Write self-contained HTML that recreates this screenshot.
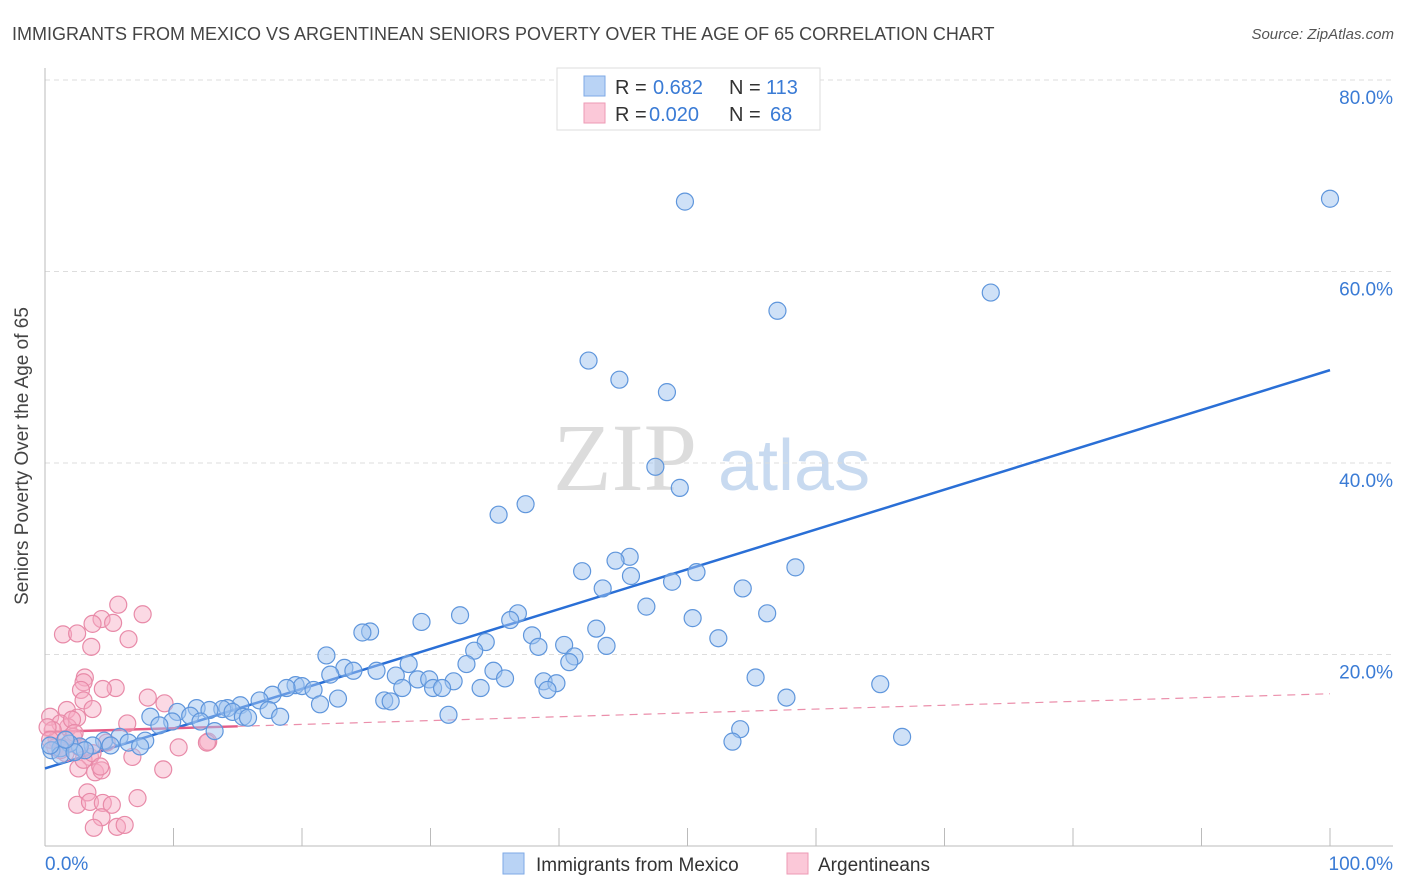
<!DOCTYPE html>
<html><head><meta charset="utf-8"><style>
body{margin:0;background:#fff;font-family:"Liberation Sans",sans-serif}
svg{display:block}
</style></head><body>
<svg id="chart" width="1406" height="892" xmlns="http://www.w3.org/2000/svg">
<text x="12" y="40" font-size="18" fill="#444">IMMIGRANTS FROM MEXICO VS ARGENTINEAN SENIORS POVERTY OVER THE AGE OF 65 CORRELATION CHART</text>
<text x="1394" y="39" font-size="15" fill="#555" font-style="italic" text-anchor="end">Source: ZipAtlas.com</text>
<g>
<text x="553" y="490" font-size="96" font-family="Liberation Serif,serif" fill="#dcdcdc">ZIP</text>
<text x="718" y="490" font-size="72" fill="#c8daf0">atlas</text>
</g>
<g id="grid"></g>
<g id="axes"></g>
<g id="trend"></g>
<g id="pink"></g>
<g id="blue"></g>
<text x="28" y="456" font-size="19" fill="#444" text-anchor="middle" transform="rotate(-90 28 456)">Seniors Poverty Over the Age of 65</text>
<text x="45" y="870" font-size="19" fill="#3a7bd5">0.0%</text>
<text x="1393" y="870" font-size="19" fill="#3a7bd5" text-anchor="end">100.0%</text>
<g>
<rect x="557" y="68" width="263" height="62" fill="#fff" stroke="#ddd"/>
<rect x="584" y="76" width="21" height="20" fill="#b9d3f5" stroke="#7eaae6"/>
<rect x="584" y="103" width="21" height="20" fill="#fbc8d8" stroke="#ee9ab5"/>
<text x="615" y="94" font-size="20" fill="#333">R = </text><text x="653" y="94" font-size="20" fill="#3a7bd5">0.682</text>
<text x="729" y="94" font-size="20" fill="#333">N = </text><text x="766" y="94" font-size="20" fill="#3a7bd5">113</text>
<text x="615" y="121" font-size="20" fill="#333">R = </text><text x="649" y="121" font-size="20" fill="#3a7bd5">0.020</text>
<text x="729" y="121" font-size="20" fill="#333">N = </text><text x="770" y="121" font-size="20" fill="#3a7bd5">68</text>
</g>
<g>
<rect x="503" y="853" width="21" height="21" fill="#b9d3f5" stroke="#7eaae6"/>
<text x="536" y="871" font-size="19" fill="#333">Immigrants from Mexico</text>
<rect x="787" y="853" width="21" height="21" fill="#fbc8d8" stroke="#ee9ab5"/>
<text x="818" y="871" font-size="19" fill="#333">Argentineans</text>
</g>
</svg>
<script>
const yTicks=[20,40,60,80];
const yTickLabels=["20.0%","40.0%","60.0%","80.0%"];
const xTicks=[0,10,20,30,40,50,60,70,80,90,100];
const blueX=[49.8,100,73.6,57.0,42.3,44.7,48.4,47.5,49.4,37.4,35.3,45.5,44.4,58.4,41.8,50.7,45.6,48.8,43.4,54.3,46.8,56.2,36.8,32.3,50.4,36.2,29.3,42.9,25.3,24.7,37.9,52.4,34.3,38.4,40.4,43.7,21.9,33.4,41.2,40.8,28.3,32.8,23.3,24.0,25.8,34.9,22.2,27.3,29.0,29.9,35.8,31.8,55.3,38.8,39.8,65.0,27.8,30.2,30.9,39.1,33.9,19.5,20.0,18.8,20.9,17.7,16.7,22.8,26.4,26.9,57.7,21.4,15.2,14.2,13.8,11.8,12.8,10.3,17.4,14.6,31.4,8.2,11.3,15.4,18.3,15.8,9.9,8.9,12.1,54.1,13.2,66.7,53.5,5.8,7.8,4.6,3.7,2.7,1.9,1.2,0.5,5.1,6.5,7.4,3.1,1.2,0.4,2.3,1.6];
const blueY=[67.3,67.6,57.8,55.9,50.7,48.7,47.4,39.6,37.4,35.7,34.6,30.2,29.8,29.1,28.7,28.6,28.2,27.6,26.9,26.9,25.0,24.3,24.3,24.1,23.8,23.6,23.4,22.7,22.4,22.3,22.0,21.7,21.3,20.8,21.0,20.9,19.9,20.4,19.8,19.2,19.0,19.0,18.6,18.3,18.3,18.3,17.9,17.8,17.4,17.4,17.5,17.2,17.6,17.2,17.0,16.9,16.5,16.5,16.5,16.3,16.5,16.8,16.7,16.5,16.3,15.8,15.2,15.4,15.2,15.1,15.5,14.8,14.7,14.4,14.3,14.4,14.2,14.0,14.2,14.0,13.7,13.5,13.6,13.5,13.5,13.4,13.0,12.6,13.0,12.2,12.0,11.4,10.9,11.4,11.0,11.0,10.5,10.4,10.7,10.2,10.0,10.5,10.8,10.4,10.0,9.5,10.5,9.8,11.1];
const pinkX=[5.7,7.6,4.4,5.3,3.7,1.4,2.5,6.5,3.6,3.1,3.0,5.5,4.5,2.8,3.0,3.7,8.0,9.3,1.7,2.5,0.4,6.4,1.8,1.2,0.6,0.9,0.8,1.4,2.2,1.6,1.2,10.4,12.7,12.6,6.8,3.5,2.6,3.9,4.4,9.2,3.3,2.5,3.5,4.5,5.2,7.2,4.4,3.8,5.6,6.2,0.2,2.1,2.3,0.4,2.7,4.8,3.0,3.7,4.3];
const pinkY=[25.2,24.2,23.7,23.3,23.2,22.1,22.2,21.6,20.8,17.6,17.1,16.5,16.4,16.3,15.2,14.3,15.5,14.9,14.2,13.4,13.5,12.8,12.4,12.8,12.1,11.1,10.3,10.3,11.4,9.7,10.0,10.3,10.9,10.8,9.3,9.3,8.1,7.7,7.9,8.0,5.6,4.3,4.6,4.5,4.3,5.0,3.0,1.9,2.0,2.2,12.4,13.2,11.8,11.1,10.3,10.8,9.0,9.7,8.3];
const blueTrend=[8.1,49.7];
const pinkTrend=[11.9,15.9];
const pinkSolidEnd=15;

const NS="http://www.w3.org/2000/svg";
const X=v=>45+v*12.85;
const Y=v=>846-v*9.575;
function mk(tag,attrs,parent){const e=document.createElementNS(NS,tag);for(const k in attrs)e.setAttribute(k,attrs[k]);parent.appendChild(e);return e;}
const grid=document.getElementById('grid'),axes=document.getElementById('axes');
yTicks.forEach((t,i)=>{
 const l=mk('line',{x1:45,x2:1393,y1:Y(t),y2:Y(t),stroke:'#ddd','stroke-dasharray':'5,4'},grid);
 
 
 const tx=mk('text',{x:1393,y:Y(t)+24,'font-size':19,fill:'#3a7bd5','text-anchor':'end'},grid);
 tx.textContent=yTickLabels[i];
 
 
});
mk('line',{x1:45,x2:45,y1:68,y2:846,stroke:'#bbb'},axes);
mk('line',{x1:45,x2:1393,y1:846,y2:846,stroke:'#bbb'},axes);
xTicks.forEach(t=>{
 const l=mk('line',{x1:X(t),x2:X(t),y1:828,y2:846,stroke:'#bbb'},axes);
 
 
});
const trend=document.getElementById('trend');
const bt=mk('line',{x1:X(0),y1:Y(blueTrend[0]),x2:X(100),y2:Y(blueTrend[1]),stroke:'#2a6fd6','stroke-width':2.5},trend);


const py=x=>pinkTrend[0]+(pinkTrend[1]-pinkTrend[0])*x/100;
const ps=mk('line',{x1:X(0),y1:Y(py(0)),x2:X(pinkSolidEnd),y2:Y(py(pinkSolidEnd)),stroke:'#e55d88','stroke-width':2.5},trend);


const pd=mk('line',{x1:X(pinkSolidEnd),y1:Y(py(pinkSolidEnd)),x2:X(100),y2:Y(py(100)),stroke:'#eb8fab','stroke-width':1.2,'stroke-dasharray':'8,6'},trend);


const pg=document.getElementById('pink');
pinkX.forEach((x,i)=>{
 const c=mk('circle',{cx:X(x),cy:Y(pinkY[i]),r:8.5,fill:'rgba(246,170,196,0.45)',stroke:'#e88aa8','stroke-width':1.2},pg);
 
 
});
const bg=document.getElementById('blue');
blueX.forEach((x,i)=>{
 const c=mk('circle',{cx:X(x),cy:Y(blueY[i]),r:8.5,fill:'rgba(160,196,240,0.5)',stroke:'#5f96dc','stroke-width':1.2},bg);
 
 
});
</script>
</body></html>
